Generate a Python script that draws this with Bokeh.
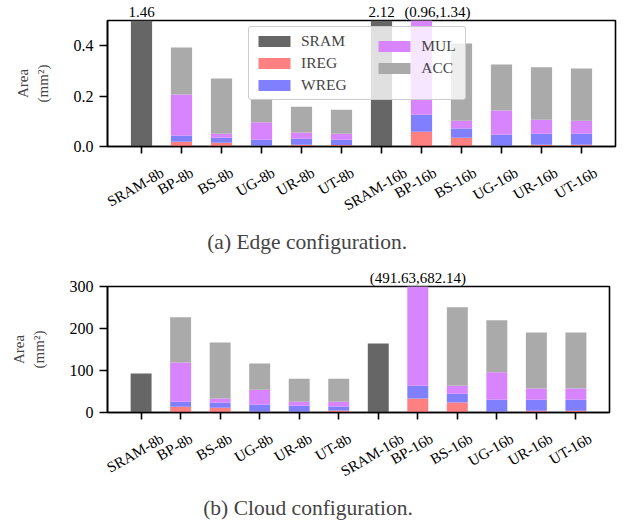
import math
import numpy as np
from bokeh.plotting import figure
from bokeh.layouts import column
from bokeh.models import (FixedTicker, PrintfTickFormatter, Legend, LegendItem,
                          LinearAxis, Range1d, Title)
from bokeh.embed import file_html
from bokeh.resources import INLINE

# ---------------- data ----------------
categories = ["SRAM-8b", "BP-8b", "BS-8b", "UG-8b", "UR-8b", "UT-8b",
              "SRAM-16b", "BP-16b", "BS-16b", "UG-16b", "UR-16b", "UT-16b"]

# Edge configuration (mm^2), per component
sram_edge = [1.46, 0, 0, 0, 0, 0, 2.12, 0, 0, 0, 0, 0]
ireg_edge = [0, 0.019, 0.015, 0.003, 0.007, 0.006, 0, 0.059, 0.035, 0.003, 0.007, 0.007]
wreg_edge = [0, 0.024, 0.020, 0.024, 0.024, 0.021, 0, 0.067, 0.036, 0.044, 0.044, 0.044]
mul_edge = [0, 0.163, 0.016, 0.069, 0.025, 0.024, 0, 0.834, 0.031, 0.096, 0.055, 0.051]
acc_edge = [0, 0.187, 0.219, 0.094, 0.102, 0.095, 0, 0.380, 0.307, 0.182, 0.208, 0.208]

# Cloud configuration (mm^2), per component
sram_cloud = [92.6, 0, 0, 0, 0, 0, 164.4, 0, 0, 0, 0, 0]
ireg_cloud = [0, 13.6, 11.2, 2.0, 2.0, 4.8, 0, 33.5, 23.9, 2.0, 4.0, 4.0]
wreg_cloud = [0, 11.9, 11.9, 16.4, 14.0, 9.6, 0, 30.3, 20.8, 28.3, 26.3, 26.3]
mul_cloud = [0, 93.4, 10.4, 35.9, 9.5, 11.1, 0, 427.83, 19.1, 65.4, 27.1, 27.1]
acc_cloud = [0, 107.7, 133.3, 62.2, 55.1, 55.1, 0, 190.51, 186.7, 123.7, 133.3, 133.3]

edge_yticks = [0, 0.2, 0.4]
cloud_yticks = [0, 100, 200, 300]
legend_col1 = ["SRAM", "IREG", "WREG"]
legend_col2 = ["MUL", "ACC"]
captions = ["(a) Edge configuration.", "(b) Cloud configuration."]

# ---------------- style ----------------
COLORS = {"SRAM": "#666666", "IREG": "#ff8080", "WREG": "#8080ff",
          "MUL": "#d884ff", "ACC": "#aaaaaa"}
FONT = "Liberation Serif"
TICK_FS = 15.0
CHAR_W = {"S": .556, "R": .667, "A": .722, "M": .889, "-": .333, "8": .5,
          "b": .5, "B": .667, "P": .556, "U": .722, "G": .722, "T": .611,
          "1": .5, "6": .5}
X_LO, X_HI_PAD = -0.85, 0.15


def text_len(s, size):
    return sum(CHAR_W.get(c, 0.5) for c in s) * size


def style_axis(ax, tick_out):
    ax.axis_line_width = 1.6
    ax.major_tick_line_width = 1.6
    ax.major_tick_out = tick_out
    ax.major_tick_in = 0
    ax.minor_tick_out = 0
    ax.minor_tick_in = 0
    ax.major_label_text_font = FONT
    ax.major_label_text_color = "black"


def bare_axis(ticks, texts, standoff, size, orientation="horizontal"):
    return LinearAxis(ticker=FixedTicker(ticks=ticks),
                      major_label_overrides=texts,
                      axis_line_color=None, major_tick_out=0, major_tick_in=0,
                      minor_tick_out=0, minor_tick_in=0,
                      major_label_standoff=standoff,
                      major_label_orientation=orientation,
                      major_label_text_font=FONT,
                      major_label_text_font_size=size,
                      major_label_text_color="black")


def make_panel(sram, ireg, wreg, mul, acc, y_max, y_ticks, y_fmt,
               stack_dx_px, caption, cap_left, frame_left, frame_width,
               border_top, border_bottom, with_legend):
    n = len(categories)
    x = np.arange(n)
    x_hi = n - X_HI_PAD
    px_per_unit = frame_width / (x_hi - X_LO)
    p = figure(frame_width=frame_width, frame_height=126,
               min_border_left=frame_left,
               min_border_right=625 - frame_left - frame_width,
               min_border_top=border_top, min_border_bottom=border_bottom,
               x_range=Range1d(X_LO, x_hi), y_range=Range1d(0, y_max),
               output_backend="svg", toolbar_location=None)
    main_x = p.below[0]
    main_y = p.left[0]
    p.xgrid.visible = False
    p.ygrid.visible = False
    p.outline_line_color = "black"
    p.outline_line_width = 1.6
    p.outline_line_alpha = 1.0

    renderers = {}
    renderers["SRAM"] = p.vbar(x=x, bottom=0, top=np.array(sram, float), width=0.53,
                               fill_color=COLORS["SRAM"], line_color=None)
    bottom = np.zeros(n)
    tops = {}
    for name, vals in [("IREG", ireg), ("WREG", wreg), ("MUL", mul), ("ACC", acc)]:
        top = bottom + np.array(vals, float)
        renderers[name] = p.vbar(x=x, bottom=bottom, top=top, width=0.53,
                                 fill_color=COLORS[name], line_color=None)
        tops[name] = top
        bottom = top

    # main axes
    style_axis(main_x, 7)
    style_axis(main_y, 8)
    main_x.ticker = FixedTicker(ticks=list(range(n)))
    main_x.major_label_overrides = {i: " " for i in range(n)}
    main_x.major_label_standoff = 0
    main_x.major_label_text_font_size = "1px"
    main_y.ticker = FixedTicker(ticks=y_ticks)
    main_y.formatter = PrintfTickFormatter(format=y_fmt)
    main_y.major_label_text_font_size = "16px"
    main_y.major_label_standoff = 6
    main_y.axis_label = "Area\n(mm²)"
    main_y.axis_label_text_font = FONT
    main_y.axis_label_text_font_size = "15px"
    main_y.axis_label_text_font_style = "normal"
    main_y.axis_label_standoff = 20

    # value labels for bars clipped at the top: an axis above the frame
    val_ticks, val_text = [], {}
    for i in range(n):
        if sram[i] > y_max:
            t = float(i)
            val_ticks.append(t)
            val_text[t] = f"{sram[i]:.2f}"
        if tops["ACC"][i] > y_max:
            t = round(i + stack_dx_px / px_per_unit, 3)
            val_ticks.append(t)
            val_text[t] = f"({tops['MUL'][i]:.2f},{tops['ACC'][i]:.2f})"
    p.add_layout(bare_axis(val_ticks, val_text, 1, "15px"), "above")

    # rotated category labels, centred under their ticks
    lab_ticks, lab_text = [], {}
    for i, c in enumerate(categories):
        t = round(i + (0.433 * text_len(c, TICK_FS) - 6) / px_per_unit, 3)
        lab_ticks.append(t)
        lab_text[t] = c
    p.add_layout(bare_axis(lab_ticks, lab_text, 14, f"{TICK_FS}px",
                           math.pi / 6), "below")

    # caption
    p.add_layout(Title(text=caption, align="left", offset=cap_left - frame_left,
                       text_font=FONT, text_font_size="21.5px",
                       text_font_style="normal", standoff=8), "below")

    if with_legend:
        common = dict(label_text_font=FONT, label_text_font_size="15.5px",
                      glyph_width=40, glyph_height=14, label_standoff=7,
                      padding=5, spacing=4, label_height=18, margin=0)
        leg1 = Legend(items=[LegendItem(label=k, renderers=[renderers[k]]) for k in legend_col1],
                      location=(141, 46), label_width=159,
                      background_fill_color="white", background_fill_alpha=0.8,
                      border_line_color="#cccccc", border_line_width=1.5,
                      border_line_alpha=1.0, **common)
        if "border_radius" in Legend.properties():
            leg1.border_radius = 3
        leg2 = Legend(items=[LegendItem(label=k, renderers=[renderers[k]]) for k in legend_col2],
                      location=(267.3, 68.7), label_width=30,
                      background_fill_alpha=0.0, border_line_color=None, **common)
        p.add_layout(leg1)
        p.add_layout(leg2)
    return p


p1 = make_panel(sram_edge, ireg_edge, wreg_edge, mul_edge, acc_edge,
                0.5, edge_yticks, "%.1f", 16, captions[0], 201.7,
                102, 508, 20, 114, True)
p2 = make_panel(sram_cloud, ireg_cloud, wreg_cloud, mul_cloud, acc_cloud,
                300, cloud_yticks, "%d", 0, captions[1], 202.7,
                107, 502, 26, 109, False)

layout = column(p1, p2, spacing=0)
open("out.html", "w").write(file_html(layout, INLINE, title="Area"))
